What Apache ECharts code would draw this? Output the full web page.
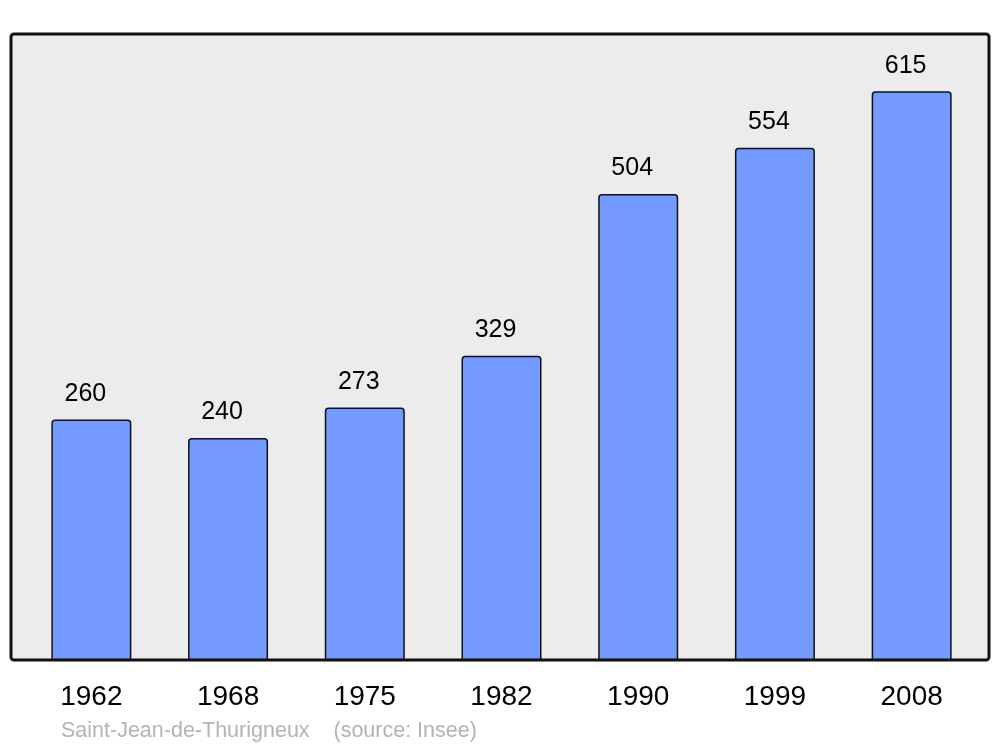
<!DOCTYPE html>
<html>
<head>
<meta charset="utf-8">
<script src="https://cdn.jsdelivr.net/npm/echarts@6/dist/echarts.min.js"></script>
<style>
html,body{margin:0;padding:0;background:#fff;}
#chart{width:1000px;height:747px;}
</style>
</head>
<body>
<div id="chart"></div>
<script>
var years = ['1962','1968','1975','1982','1990','1999','2008'];
var population = [260, 240, 273, 329, 504, 554, 615];
var sourceText = 'Saint-Jean-de-Thurigneux    (source: Insee)';

var chart = echarts.init(document.getElementById('chart'), null, {renderer:'canvas'});
chart.setOption({
  backgroundColor: '#ffffff',
  animation: false,
  textStyle: {fontFamily: 'Liberation Sans, Arial, sans-serif'},
  graphic: [
    {type:'rect', z:-10, shape:{x:11, y:34, width:978, height:626, r:3},
     style:{fill:'#ececec', stroke:'#111111', lineWidth:3}},
    {type:'text', left:61, top:720,
     style:{text: sourceText, fill:'#b3b3b3', font:'21.5px "Liberation Sans", Arial, sans-serif'}}
  ],
  grid: {left:23, right:20, top:34, bottom:87},
  xAxis: {
    type:'category', data: years,
    axisLine:{show:false}, axisTick:{show:false},
    axisLabel:{color:'#000', fontSize:28, margin:23, fontFamily:'Liberation Sans, Arial, sans-serif'}
  },
  yAxis: {
    type:'value', min:0, max:677, show:false,
    splitLine:{show:false}
  },
  series: [{
    type:'bar', data: population, barWidth:80,
    itemStyle:{color:'#7499ff', borderColor:'#111', borderWidth:1.5, borderRadius:[3,3,0,0]},
    label:{show:true, position:'top', distance:13, offset:[-6,0], color:'#000', fontSize:25,
      fontFamily:'Liberation Sans, Arial, sans-serif'}
  }]
});
</script>
</body>
</html>
